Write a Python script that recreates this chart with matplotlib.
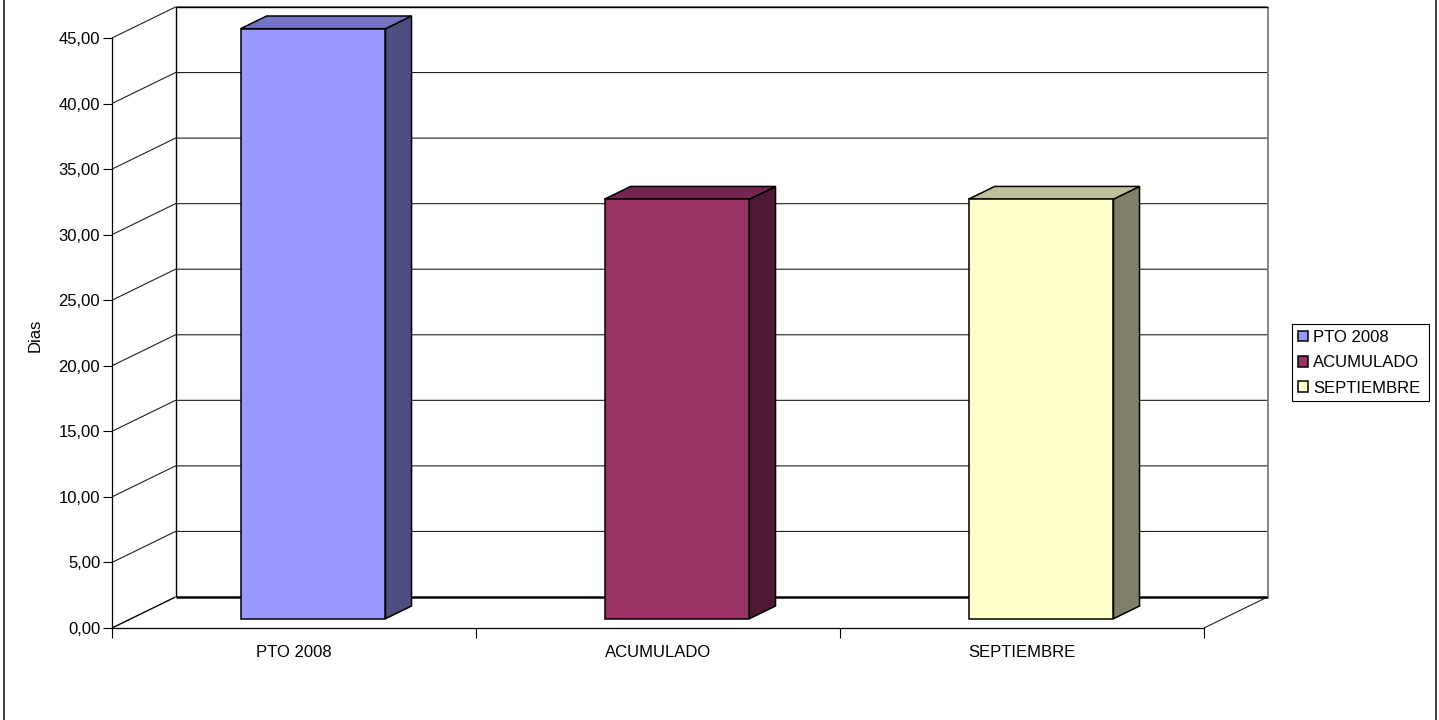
import matplotlib
matplotlib.use("Agg")
import matplotlib.pyplot as plt
from matplotlib.lines import Line2D

plt.rcParams['font.family'] = ['Liberation Sans', 'DejaVu Sans']
plt.rcParams['lines.solid_capstyle'] = 'butt'

categorias = ['PTO 2008', 'ACUMULADO', 'SEPTIEMBRE']
valores = [45.0, 32.0, 32.0]
colores = ['#9999FF', '#993366', '#FFFFCC']
colores_arriba = ['#7373BF', '#732650', '#BFBF99']
colores_lado = ['#4D4D80', '#4D1A33', '#808066']
y_ticks = [0, 5, 10, 15, 20, 25, 30, 35, 40, 45]
y_etiquetas = ['0,00', '5,00', '10,00', '15,00', '20,00', '25,00', '30,00', '35,00', '40,00', '45,00']

W, H = 1439, 720
fig = plt.figure(figsize=(W / 100, H / 100), dpi=100)
# la ventana de ejes es el plano frontal del grafico
ax = fig.add_axes([112 / W, 1 - 628 / H, (1204 - 112) / W, (628 - 38) / H])
ax.set_xlim(0, 3)
ax.set_ylim(0, 45)
ax.patch.set_visible(False)

# fondo en perspectiva, en unidades de datos
px_x = 3 / (1204 - 112)
px_y = 45 / (628 - 38)
prof_x = 63.5 * px_x
prof_y = 31 * px_y

# paredes y rejilla
for v in y_ticks[1:]:
    ax.plot([0, prof_x, 3 + prof_x], [v, v + prof_y, v + prof_y], color='#202020', lw=0.8, clip_on=False, zorder=1)
ax.plot([0, prof_x], [0, prof_y], color='black', lw=1, clip_on=False, zorder=1)
ax.plot([3, 3 + prof_x], [0, prof_y], color='#202020', lw=0.8, clip_on=False, zorder=1)
ax.plot([prof_x, 3 + prof_x], [prof_y, prof_y], color='black', lw=1.8, clip_on=False, zorder=1)
ax.plot([prof_x, prof_x], [prof_y, 45 + prof_y], color='black', lw=1, clip_on=False, zorder=1)
ax.plot([3 + prof_x, 3 + prof_x], [prof_y, 45 + prof_y], color='#707070', lw=1.2, clip_on=False, zorder=1)
ax.plot([prof_x, 3 + prof_x], [45 + prof_y, 45 + prof_y], color='black', lw=1, clip_on=False, zorder=1)

# barras
ancho = 0.398
ini = 0.30
fondo = 0.41
for i, (c, v) in enumerate(zip(categorias, valores)):
    x0 = i + 0.5 - ancho / 2 + ini * prof_x
    y0 = ini * prof_y
    dx = fondo * prof_x
    dy = fondo * prof_y
    ax.fill([x0 + ancho, x0 + ancho + dx, x0 + ancho + dx, x0 + ancho],
            [y0, y0 + dy, y0 + v + dy, y0 + v],
            facecolor=colores_lado[i], edgecolor='black', lw=1.1, clip_on=False, zorder=3)
    ax.fill([x0, x0 + dx, x0 + ancho + dx, x0 + ancho],
            [y0 + v, y0 + v + dy, y0 + v + dy, y0 + v],
            facecolor=colores_arriba[i], edgecolor='black', lw=1.1, clip_on=False, zorder=3)
    ax.bar(x0, v, width=ancho, bottom=y0, align='edge', color=colores[i], edgecolor='black',
           lw=1.1, clip_on=False, zorder=4, label=c)

# ejes
for s in ['top', 'right']:
    ax.spines[s].set_visible(False)
for s in ['left', 'bottom']:
    ax.spines[s].set_linewidth(0.9)
    ax.spines[s].set_zorder(2)
ax.set_yticks(y_ticks)
ax.set_yticklabels(y_etiquetas)
ax.set_xticks([0, 1, 2, 3])
ax.set_xticklabels([])
ax.set_xticks([0.5, 1.5, 2.5], minor=True)
ax.set_xticklabels(categorias, minor=True)
ax.tick_params(axis='y', length=6.5, width=0.8, labelsize=12, pad=2)
ax.tick_params(axis='x', which='major', length=7.5, width=0.8)
ax.tick_params(axis='x', which='minor', length=0, labelsize=12, pad=12)
fig.text(35 / W, 1 - 335 / H, 'Dias', rotation=90, ha='center', va='center', fontsize=12)

# leyenda
ley = ax.legend(loc='upper left', bbox_to_anchor=(1292 / W, 1 - 400 / H, 137 / W, 76 / H),
                bbox_transform=fig.transFigure, mode='expand',
                fontsize=12, frameon=True, fancybox=False, framealpha=1, edgecolor='black',
                borderpad=0.35, labelspacing=0.62, handlelength=0.62, handleheight=0.62, handletextpad=0.3,
                borderaxespad=0)
ley.get_frame().set_linewidth(0.8)

# marco exterior: solo lados izquierdo y derecho
for xp in [3.5, 1436]:
    fig.add_artist(Line2D([xp / W, xp / W], [0, 1], transform=fig.transFigure, color='#303030', lw=1.3))

fig.savefig('out.png', dpi=100)
